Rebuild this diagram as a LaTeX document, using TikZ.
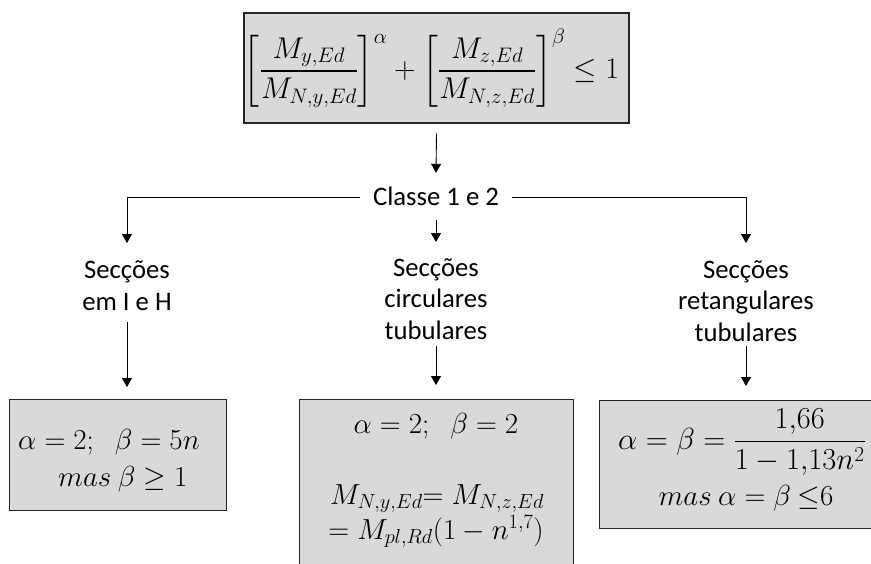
\documentclass[tikz,border=0pt]{standalone}
\usepackage{amsmath}
\usepackage{fontspec}
\setmainfont{Carlito}
\DeclareFontShape{OML}{cmm}{m}{it}{<-6>cmmi5<6-7>cmmi6<7-8>cmmi7<8-9>cmmi8<9-10>cmmi9<10-12>cmmi10<12->cmmi12}{}
\DeclareFontShape{OMS}{cmsy}{m}{n}{<-6>cmsy5<6-7>cmsy6<7-8>cmsy7<8-9>cmsy8<9-10>cmsy9<10->cmsy10}{}
\DeclareFontShape{OT1}{cmr}{m}{n}{<-6>cmr5<6-7>cmr6<7-8>cmr7<8-9>cmr8<9-10>cmr9<10-12>cmr10<12-17>cmr12<17->cmr17}{}
\DeclareFontShape{OMX}{cmex}{m}{n}{<->cmex10}{}
\usetikzlibrary{arrows.meta}
\definecolor{boxfill}{HTML}{D9D9D9}
\definecolor{boxline}{HTML}{262626}
\begin{document}
\begin{tikzpicture}[x=1pt,y=-1pt,
  box/.style={draw=boxline,fill=boxfill,line width=1.3pt,inner sep=0pt},
  mth/.style={font=\fontsize{29}{32}\selectfont,inner sep=0pt},
  lbl/.style={font=\fontsize{26.7}{31.5}\selectfont,align=center,inner sep=0pt},
  cl/.style={font=\fontsize{26.7}{31.5}\selectfont,inner xsep=13pt,inner ysep=0pt,text height=20pt,text depth=3pt},
  arr/.style={draw=black,line width=0.9pt,-{Triangle[length=9pt,width=10pt]}}]
\useasboundingbox (0,0) rectangle (871,563);
\clip (0,0) rectangle (871,563);

% top condition
\node[box,font=\fontsize{30}{32}\selectfont,minimum width=379pt,minimum height=110pt] (top) at (436.5,68)
  {$\left[\dfrac{M_{y,Ed}}{M_{N,y,Ed}}\right]^{\alpha}+\left[\dfrac{M_{z,Ed}}{M_{N,z,Ed}}\right]^{\beta}\leq 1$\hspace*{10pt}};

\node[cl] (cls) at (436,197) {Classe 1 e 2};

\node[lbl,anchor=base] (l1) at (127,310) {Secções\\em I e H};
\node[lbl,anchor=base] (l2) at (436,339) {Secções\\circulares\\tubulares};
\node[lbl,anchor=base] (l3) at (746,341) {Secções\\retangulares\\tubulares};

% bottom boxes
\node[box,minimum width=217pt,minimum height=111pt,anchor=north west] (b1) at (9,399) {};
\node[mth,anchor=base west] (b1a) at (18,449) {$\alpha=2;\;\;\beta=5n$};
\node[mth,anchor=base west] (b1b) at (58,486) {$mas\ \beta\geq 1$};

\node[box,minimum width=274pt,minimum height=200pt,anchor=north west] (b2) at (299,399) {};
\node[mth,anchor=base] (b2a) at (436,433) {$\alpha=2;\;\;\beta=2$};
\node[mth,anchor=base] (b2b) at (437,504) {$M_{N,y,Ed}{=}\;M_{N,z,Ed}$};
\node[mth,anchor=base] (b2c) at (436,539) {$=M_{pl,Rd}(1-n^{1{,}7})$};

\node[box,minimum width=294pt,minimum height=128pt,anchor=north west] (b3) at (599,400) {};
\node[mth,font=\fontsize{30.5}{32}\selectfont,anchor=base west] (b3a) at (618,449) {$\alpha=\beta=\dfrac{1{,}66}{1-1{,}13n^2}$};
\node[mth,anchor=base] (b3b) at (746,505) {$mas\ \alpha=\beta\ {\leq}6$};

% connectors
\draw[arr] ([yshift=-10pt]top.south) -- ([yshift=12.5pt]cls.north);
\draw[arr] ([yshift=-11pt]cls.south) -- ([yshift=97pt]l2.base);
\draw[arr] (cls.west) -| ([yshift=67pt]l1.base);
\draw[arr] (cls.east) -| ([yshift=98pt]l3.base);
\draw[arr] ([yshift=-12pt]l1.south) -- ([yshift=12pt]b1.north -| l1.south);
\draw[arr] ([yshift=-7pt]l2.south) -- ([yshift=14pt]b2.north -| l2.south);
\draw[arr] ([yshift=-5pt]l3.south) -- ([yshift=14pt]b3.north -| l3.south);
\end{tikzpicture}
\end{document}
